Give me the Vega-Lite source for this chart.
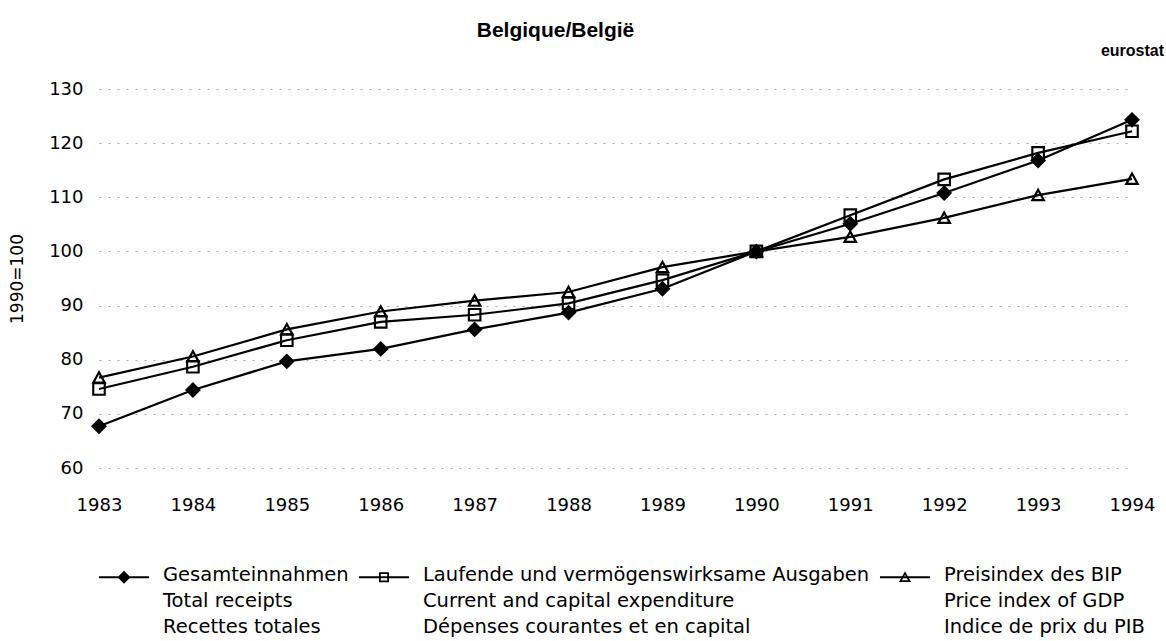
{
  "$schema": "https://vega.github.io/schema/vega-lite/v6.json",
  "autosize": "none",
  "width": 1033,
  "height": 379,
  "padding": {"left": 99, "top": 89, "right": 34, "bottom": 173},
  "background": "white",
  "title": {"text": "Belgique/België", "font": "Liberation Sans", "fontSize": 21, "fontWeight": "bold", "color": "black", "anchor": "middle", "dx": -60, "offset": 1},
  "config": {
    "font": "DejaVu Sans",
    "view": {"stroke": null},
    "axis": {"labelFont": "DejaVu Sans", "labelFontSize": 18, "labelColor": "black", "titleFont": "DejaVu Sans", "titleColor": "black", "domain": false, "ticks": false},
    "style": {"guide-label": {"lineHeight": 26}}
  },
  "datasets": {
    "series": [
      {"year": 1983, "series": "Gesamteinnahmen|Total receipts|Recettes totales", "value": 67.7},
      {"year": 1984, "series": "Gesamteinnahmen|Total receipts|Recettes totales", "value": 74.4},
      {"year": 1985, "series": "Gesamteinnahmen|Total receipts|Recettes totales", "value": 79.7},
      {"year": 1986, "series": "Gesamteinnahmen|Total receipts|Recettes totales", "value": 82.0},
      {"year": 1987, "series": "Gesamteinnahmen|Total receipts|Recettes totales", "value": 85.6},
      {"year": 1988, "series": "Gesamteinnahmen|Total receipts|Recettes totales", "value": 88.7},
      {"year": 1989, "series": "Gesamteinnahmen|Total receipts|Recettes totales", "value": 93.1},
      {"year": 1990, "series": "Gesamteinnahmen|Total receipts|Recettes totales", "value": 100.0},
      {"year": 1991, "series": "Gesamteinnahmen|Total receipts|Recettes totales", "value": 105.1},
      {"year": 1992, "series": "Gesamteinnahmen|Total receipts|Recettes totales", "value": 110.8},
      {"year": 1993, "series": "Gesamteinnahmen|Total receipts|Recettes totales", "value": 116.8},
      {"year": 1994, "series": "Gesamteinnahmen|Total receipts|Recettes totales", "value": 124.3},
      {"year": 1983, "series": "Laufende und vermögenswirksame Ausgaben|Current and capital expenditure|Dépenses courantes et en capital", "value": 74.6},
      {"year": 1984, "series": "Laufende und vermögenswirksame Ausgaben|Current and capital expenditure|Dépenses courantes et en capital", "value": 78.7},
      {"year": 1985, "series": "Laufende und vermögenswirksame Ausgaben|Current and capital expenditure|Dépenses courantes et en capital", "value": 83.6},
      {"year": 1986, "series": "Laufende und vermögenswirksame Ausgaben|Current and capital expenditure|Dépenses courantes et en capital", "value": 87.0},
      {"year": 1987, "series": "Laufende und vermögenswirksame Ausgaben|Current and capital expenditure|Dépenses courantes et en capital", "value": 88.3},
      {"year": 1988, "series": "Laufende und vermögenswirksame Ausgaben|Current and capital expenditure|Dépenses courantes et en capital", "value": 90.4},
      {"year": 1989, "series": "Laufende und vermögenswirksame Ausgaben|Current and capital expenditure|Dépenses courantes et en capital", "value": 94.7},
      {"year": 1990, "series": "Laufende und vermögenswirksame Ausgaben|Current and capital expenditure|Dépenses courantes et en capital", "value": 100.0},
      {"year": 1991, "series": "Laufende und vermögenswirksame Ausgaben|Current and capital expenditure|Dépenses courantes et en capital", "value": 106.7},
      {"year": 1992, "series": "Laufende und vermögenswirksame Ausgaben|Current and capital expenditure|Dépenses courantes et en capital", "value": 113.3},
      {"year": 1993, "series": "Laufende und vermögenswirksame Ausgaben|Current and capital expenditure|Dépenses courantes et en capital", "value": 118.2},
      {"year": 1994, "series": "Laufende und vermögenswirksame Ausgaben|Current and capital expenditure|Dépenses courantes et en capital", "value": 122.2},
      {"year": 1983, "series": "Preisindex des BIP|Price index of GDP|Indice de prix du PIB", "value": 76.7},
      {"year": 1984, "series": "Preisindex des BIP|Price index of GDP|Indice de prix du PIB", "value": 80.6},
      {"year": 1985, "series": "Preisindex des BIP|Price index of GDP|Indice de prix du PIB", "value": 85.6},
      {"year": 1986, "series": "Preisindex des BIP|Price index of GDP|Indice de prix du PIB", "value": 88.9},
      {"year": 1987, "series": "Preisindex des BIP|Price index of GDP|Indice de prix du PIB", "value": 90.9},
      {"year": 1988, "series": "Preisindex des BIP|Price index of GDP|Indice de prix du PIB", "value": 92.5},
      {"year": 1989, "series": "Preisindex des BIP|Price index of GDP|Indice de prix du PIB", "value": 97.1},
      {"year": 1990, "series": "Preisindex des BIP|Price index of GDP|Indice de prix du PIB", "value": 100.0},
      {"year": 1991, "series": "Preisindex des BIP|Price index of GDP|Indice de prix du PIB", "value": 102.7},
      {"year": 1992, "series": "Preisindex des BIP|Price index of GDP|Indice de prix du PIB", "value": 106.2},
      {"year": 1993, "series": "Preisindex des BIP|Price index of GDP|Indice de prix du PIB", "value": 110.4},
      {"year": 1994, "series": "Preisindex des BIP|Price index of GDP|Indice de prix du PIB", "value": 113.4}
    ]
  },
  "data": {"name": "series"},
  "encoding": {
    "y": {"field": "value", "type": "quantitative", "scale": {"domain": [60, 130], "nice": false, "zero": false},
      "axis": {"title": "1990=100", "titleFontSize": 17, "titleFontWeight": "normal", "titlePadding": 22, "values": [60,70,80,90,100,110,120,130], "labelPadding": 16, "grid": true, "gridColor": "#a8a8a8", "gridDash": [2, 7], "gridWidth": 1}}
  },
  "layer": [
    {
      "mark": {"type": "line", "color": "black", "strokeWidth": 2.2},
      "encoding": {
        "x": {"field": "year", "type": "quantitative", "scale": {"domain": [1983, 1994], "nice": false, "zero": false},
          "axis": {"title": null, "values": [1983,1984,1985,1986,1987,1988,1989,1990,1991,1992,1993,1994], "format": "d", "grid": false, "labelPadding": 28, "labelFlush": false}},
        "detail": {"field": "series"}
      }
    },
    {
      "mark": {"type": "point", "filled": true, "color": "black", "strokeWidth": 0, "size": 230, "opacity": 1},
      "encoding": {
        "x": {"field": "year", "type": "quantitative",
          "axis": {"orient": "top", "labels": false, "grid": false, "title": "eurostat", "titleFont": "Liberation Sans", "titleFontWeight": "bold", "titleFontSize": 16, "titleAnchor": "end", "titleAlign": "center", "titlePadding": 31}},
        "shape": {"field": "series", "type": "nominal",
          "scale": {"domain": ["Gesamteinnahmen|Total receipts|Recettes totales", "Laufende und vermögenswirksame Ausgaben|Current and capital expenditure|Dépenses courantes et en capital", "Preisindex des BIP|Price index of GDP|Indice de prix du PIB"],
            "range": ["M0,-1.05L1.05,0L0,1.05L-1.05,0Z", "M-0.9,-0.9H0.9V0.9H-0.9Z M-0.62,-0.62V0.62H0.62V-0.62Z", "M0,-1L1,0.8H-1Z M0,-0.4L-0.5,0.52H0.5Z"]},
          "legend": null}
      }
    },
    {
      "transform": [{"filter": "datum.value < 0"}],
      "mark": {"type": "point", "filled": true, "color": "black", "strokeWidth": 0, "opacity": 1},
      "encoding": {
        "x": {"field": "year", "type": "quantitative", "axis": null},
        "shape": {"field": "series", "type": "nominal",
          "scale": {"domain": ["Gesamteinnahmen|Total receipts|Recettes totales", "Laufende und vermögenswirksame Ausgaben|Current and capital expenditure|Dépenses courantes et en capital", "Preisindex des BIP|Price index of GDP|Indice de prix du PIB"],
            "range": ["M-1,0.40H1V0.48H-1Z M0,0.18L0.26,0.44L0,0.70L-0.26,0.44Z", "M-1,0.40H1V0.48H-1Z M-0.2,0.24H0.2V0.64H-0.2Z M-0.13,0.31V0.57H0.13V0.31Z", "M-1,0.40H1V0.48H-1Z M0,0.20L0.24,0.63H-0.24Z M0,0.344L-0.12,0.56H0.12Z"]},
          "legend": {
            "orient": "bottom", "direction": "horizontal", "title": null, "offset": 27,
            "labelExpr": "split(datum.label, '|')", "labelFontSize": 19.5, "labelFont": "DejaVu Sans", "labelColor": "black", "labelBaseline": "top", "labelLimit": 0,
            "symbolSize": 2500, "symbolFillColor": "black", "symbolStrokeWidth": 0, "symbolOpacity": 1, "columnPadding": 10, "labelOffset": 14
          }}
      }
    }
  ],
  "resolve": {"axis": {"x": "independent"}, "scale": {"shape": "independent"}, "legend": {"shape": "independent"}}
}
